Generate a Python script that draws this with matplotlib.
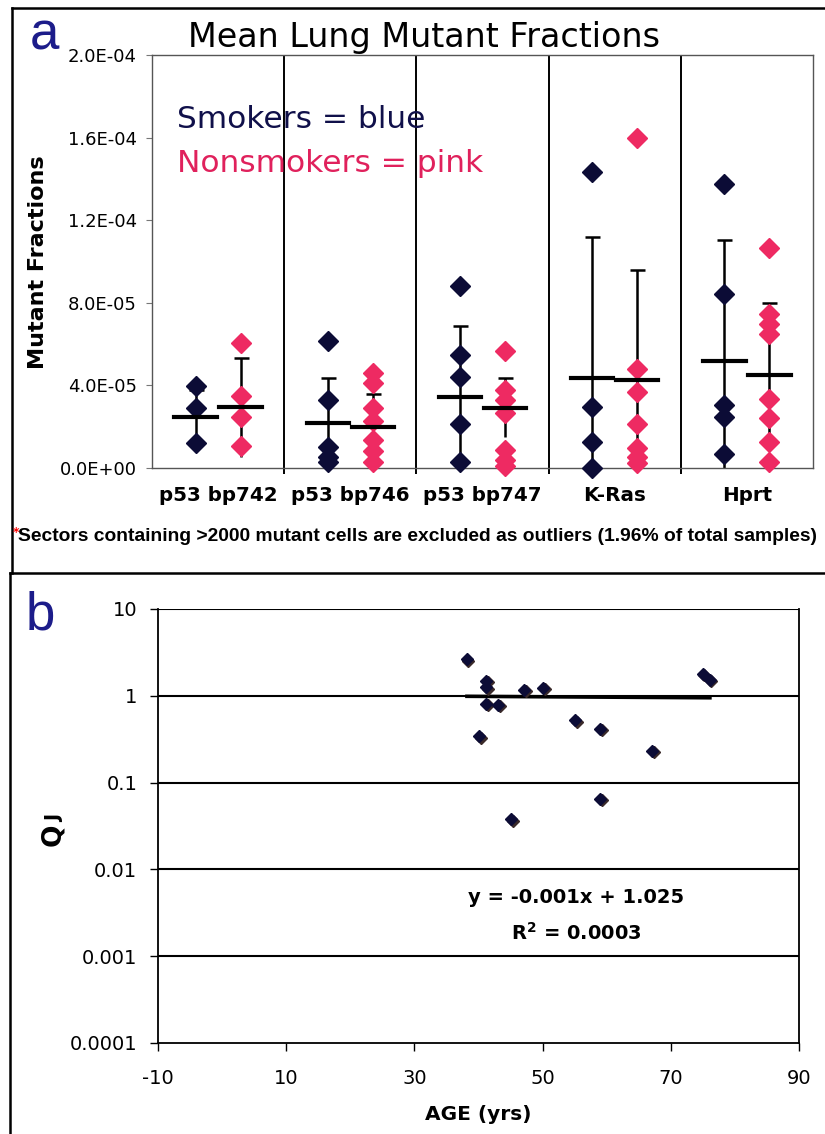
import numpy as np
import matplotlib.pyplot as plt
from matplotlib.lines import Line2D
from matplotlib.ticker import FixedLocator, FuncFormatter
from matplotlib.transforms import ScaledTranslation

plt.rcParams['axes.unicode_minus'] = False

# --- data: panel a, mean lung mutant fractions ---
categories = ['p53 bp742', 'p53 bp746', 'p53 bp747', 'K-Ras', 'Hprt']

smoker_points = [
    [3.95e-5, 2.89e-5, 1.20e-5],
    [6.17e-5, 3.30e-5, 1.01e-5, 0.55e-5, 0.29e-5],
    [8.79e-5, 5.45e-5, 4.43e-5, 2.15e-5, 0.30e-5],
    [1.433e-4, 2.95e-5, 1.27e-5, 0.0],
    [1.377e-4, 8.45e-5, 3.04e-5, 2.47e-5, 0.66e-5],
]
smoker_mean = [2.46e-5, 2.17e-5, 3.44e-5, 4.35e-5, 5.20e-5]
smoker_sd = [1.30e-5, 2.17e-5, 3.42e-5, 6.85e-5, 5.84e-5]

nonsmoker_points = [
    [6.07e-5, 3.47e-5, 2.46e-5, 1.06e-5],
    [4.60e-5, 4.10e-5, 2.90e-5, 2.30e-5, 1.35e-5, 0.80e-5, 0.30e-5],
    [5.69e-5, 3.76e-5, 3.28e-5, 2.65e-5, 0.87e-5, 0.39e-5, 0.10e-5],
    [1.60e-4, 4.80e-5, 3.68e-5, 2.12e-5, 0.95e-5, 0.55e-5, 0.23e-5],
    [1.064e-4, 7.46e-5, 6.97e-5, 6.49e-5, 3.36e-5, 2.40e-5, 1.27e-5, 0.30e-5],
]
nonsmoker_mean = [2.94e-5, 1.98e-5, 2.92e-5, 4.24e-5, 4.48e-5]
nonsmoker_sd = [2.41e-5, 1.59e-5, 1.43e-5, 5.35e-5, 3.49e-5]

# --- data: panel b, QJ vs age ---
ages = [38.2, 41.2, 41.2, 41.2, 43.1, 47.1, 50.1, 40.1, 55.1, 59.0, 67.1, 59.0, 45.1, 75.0, 76.1]
qj = [2.62, 1.50, 1.26, 0.81, 0.79, 1.18, 1.24, 0.34, 0.52, 0.42, 0.234, 0.065, 0.038, 1.79, 1.53]
trend_slope = -0.001
trend_intercept = 1.025

navy = '#0c0c36'
pink = '#ee2a62'
W, H = 825, 1134

fig = plt.figure(figsize=(W / 100, H / 100), dpi=100)


def fx(px):
    return px / W


def fy(py):
    return 1 - py / H


# ===================== panel a =====================
ax = fig.add_axes([fx(152), fy(468), fx(813 - 152), (468 - 55) / H])
xs = np.arange(len(categories))
off = 0.17
half = 0.16

for i in range(len(categories)):
    for pts, mean, sd, dx, col in [(smoker_points[i], smoker_mean[i], smoker_sd[i], -off, navy),
                                   (nonsmoker_points[i], nonsmoker_mean[i], nonsmoker_sd[i], off, pink)]:
        x = xs[i] + dx
        # plus bar with cap, minus bar without a visible cap
        ax.errorbar([x], [mean], yerr=[[0], [sd]], fmt='none', ecolor='black',
                    elinewidth=1.8, capsize=5.4, capthick=1.8, zorder=2)
        ax.vlines(x, max(mean - sd, 0), mean, color='black', lw=1.8, zorder=2)
        ax.plot([x] * len(pts), pts, linestyle='none', marker='D', ms=10.5,
                color=col, zorder=3, clip_on=False)
        ax.plot([x - half, x + half], [mean, mean], color='black', lw=3, zorder=4)

for b in np.arange(0.5, len(categories) - 0.5, 1.0):
    ax.axvline(b, color='black', lw=1.4, zorder=1)

ax.set_xlim(-0.5, len(categories) - 0.5)
ax.set_ylim(0, 2.0e-4)
ax.set_yticks(np.arange(0, 2.01e-4, 4e-5))
ax.yaxis.set_major_formatter(FuncFormatter(lambda v, _: '{:.1E}'.format(v)))
ax.set_xticks(xs)
ax.set_xticklabels(categories, fontsize=14.3, fontweight='bold')
ax.xaxis.set_minor_locator(FixedLocator(np.arange(0.5, len(categories) - 0.5, 1.0)))
ax.tick_params(axis='x', which='major', length=0, pad=13)
ax.tick_params(axis='x', which='minor', length=4, width=1.4, color='black')
ax.tick_params(axis='y', length=4, width=0.8, color='#777777', pad=7, labelsize=13)
for s in ax.spines.values():
    s.set_color('#555555')
    s.set_linewidth(1.0)

ax.text(0.038, 0.823, 'Smokers = blue', transform=ax.transAxes, fontsize=22.5, color='#10104a')
ax.text(0.038, 0.717, 'Nonsmokers = pink', transform=ax.transAxes, fontsize=22.5, color='#e0215c')

fig.text(fx(424), fy(47), 'Mean Lung Mutant Fractions', fontsize=24, ha='center', va='baseline')
fig.text(fx(38), fy(262), 'Mutant Fractions', fontsize=16, fontweight='bold',
         rotation=90, ha='center', va='center')
fig.text(fx(30), fy(49), 'a', fontsize=38, color='#1c1c8a', family='Liberation Sans', va='baseline')

fig.text(fx(13), fy(536), '*', fontsize=9, color='red', fontweight='bold', va='baseline')
fig.text(fx(18), fy(541), 'Sectors containing >2000 mutant cells are excluded as outliers (1.96% of total samples)',
         fontsize=13.9, fontweight='bold', family='Liberation Sans', va='baseline')

# ===================== panel b =====================
bx = fig.add_axes([fx(158), fy(1043), fx(799 - 158), (1043 - 609) / H])
bx.set_yscale('log')
bx.set_ylim(1e-4, 10)
bx.set_xlim(-10, 90)
decades = [1e-4, 1e-3, 1e-2, 1e-1, 1, 10]
bx.yaxis.set_major_locator(FixedLocator(decades))
bx.yaxis.set_minor_locator(FixedLocator([]))
bx.yaxis.set_major_formatter(FuncFormatter(lambda v, _: '{:g}'.format(v)))
bx.set_xticks(np.arange(-10, 91, 20))
for d in decades[1:]:
    bx.axhline(d, color='black', lw=1.5, zorder=1)

shadow = bx.transData + ScaledTranslation(1.5 / 100, -1.5 / 100, fig.dpi_scale_trans)
bx.plot(ages, qj, linestyle='none', marker='D', ms=6.5, color='#3a2a2a', zorder=3, transform=shadow)
bx.plot(ages, qj, linestyle='none', marker='D', ms=6.5, color=navy, zorder=4)
tx = np.array([min(ages), max(ages)])
bx.plot(tx, trend_slope * tx + trend_intercept, color='black', lw=2.6, zorder=2)

bx.tick_params(axis='y', length=6, width=1.0, pad=9, labelsize=14)
bx.tick_params(axis='x', length=6, width=1.0, pad=13, labelsize=14)
for s in ['left', 'bottom', 'right']:
    bx.spines[s].set_color('black')
    bx.spines[s].set_linewidth(1.3)
bx.spines['top'].set_visible(False)
bx.set_xlabel('AGE (yrs)', fontsize=14.5, fontweight='bold', labelpad=12)

fig.text(fx(576), fy(903), 'y = -0.001x + 1.025', fontsize=14, fontweight='bold', ha='center', va='baseline')
fig.text(fx(576), fy(940), r'R$^\mathbf{2}$ = 0.0003', fontsize=14, fontweight='bold', ha='center', va='baseline')

fig.text(fx(60), fy(846), 'Q', fontsize=19, fontweight='bold', rotation=90,
         rotation_mode='anchor', ha='left', va='baseline')
fig.text(fx(60), fy(822), 'J', fontsize=14, fontweight='bold', rotation=90,
         rotation_mode='anchor', ha='left', va='baseline')
fig.text(fx(26), fy(630), 'b', fontsize=38, color='#1c1c8a', family='Liberation Sans', va='baseline')

# frame lines around the two panels
for xy in [([fx(12), 1.0], [fy(8), fy(8)]),
           ([fx(12), fx(12)], [fy(8), fy(573)]),
           ([fx(10), fx(10)], [fy(573), 0.0]),
           ([fx(10), 1.0], [fy(573), fy(573)])]:
    fig.add_artist(Line2D(xy[0], xy[1], color='black', lw=1.8))

fig.savefig('out.png', dpi=100)
